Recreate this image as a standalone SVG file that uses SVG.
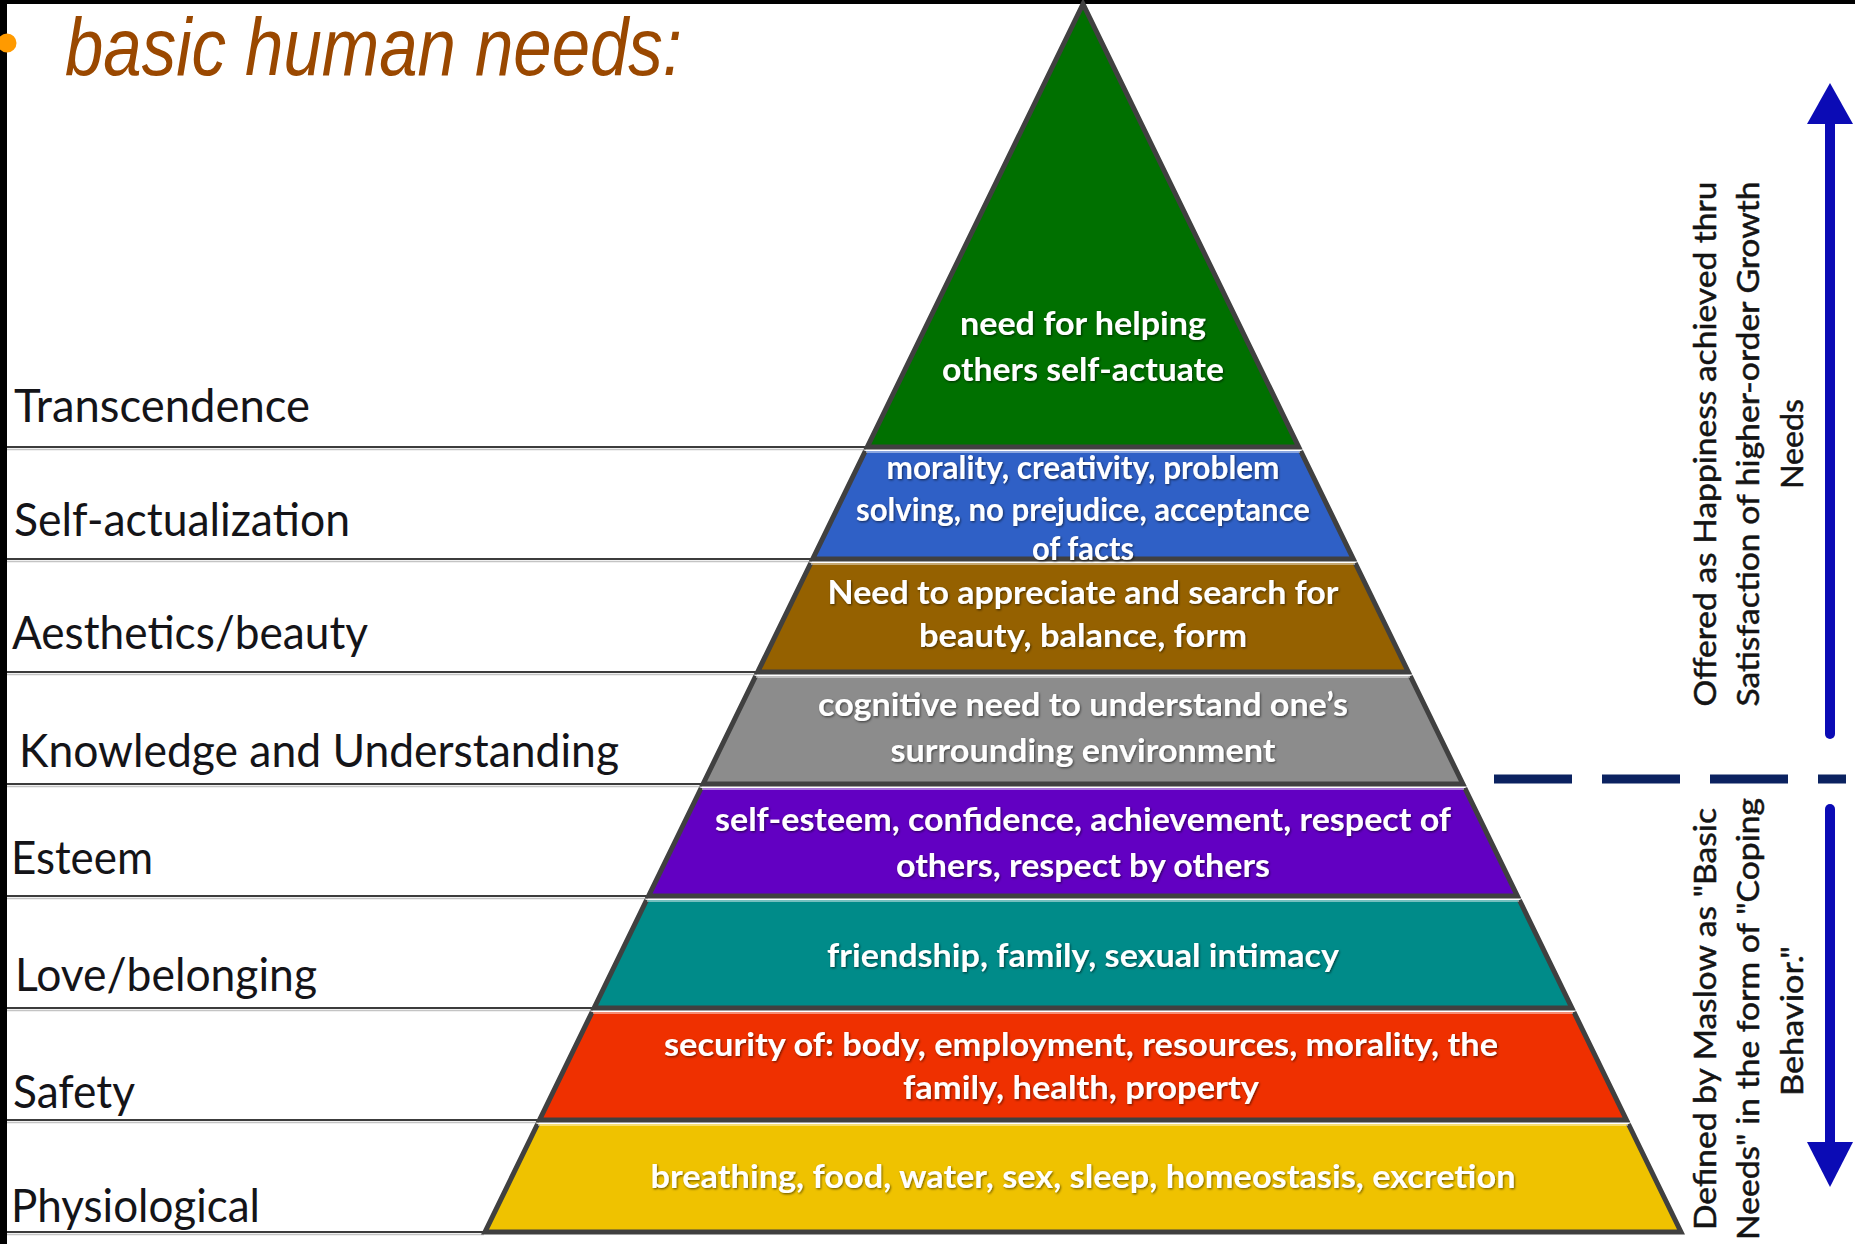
<svg xmlns="http://www.w3.org/2000/svg" width="1855" height="1244" viewBox="0 0 1855 1244">
<defs>
<style>
.lbl{font-family:Lato,"Open Sans","Liberation Sans",sans-serif;font-size:46px;fill:#141418}
.pt{font-family:Lato,"Open Sans","Liberation Sans",sans-serif;font-size:32px;font-weight:bold;fill:#ffffff;text-anchor:middle;filter:url(#sh)}
.side{font-family:Lato,"Open Sans","Liberation Sans",sans-serif;font-size:31px;fill:#141414;stroke:#141414;stroke-width:0.5;text-anchor:middle}
.edge{fill:none;stroke:#404040;stroke-width:5;stroke-linejoin:miter}
.hl{stroke:#ffffff;stroke-opacity:0.45;stroke-width:2}
.rule{stroke:#3c3c3c;stroke-width:2.2}
.rule2{stroke:#c4c4c4;stroke-width:1.5}
</style>
<filter id="sh" x="-5%" y="-30%" width="110%" height="160%">
<feDropShadow dx="1" dy="1.2" stdDeviation="0.9" flood-color="#000" flood-opacity="0.55"/>
</filter>
</defs>
<rect x="0" y="0" width="1855" height="1244" fill="#ffffff"/>
<rect x="0" y="0" width="1855" height="4" fill="#000"/>
<rect x="0" y="0" width="7" height="1244" fill="#000"/>
<circle id="bullet" cx="7" cy="43" r="9.5" fill="#ff9a00"/>
<text id="title" x="65" y="75" font-family="'Liberation Sans',Arial,sans-serif" font-style="italic" font-size="82" fill="#9a4800" textLength="617" lengthAdjust="spacingAndGlyphs">basic human needs:</text>

<g id="rules">
<line class="rule" x1="7" y1="447" x2="867" y2="447"/><line class="rule2" x1="7" y1="449.5" x2="866" y2="449.5"/>
<line class="rule" x1="7" y1="559" x2="813" y2="559"/><line class="rule2" x1="7" y1="561.5" x2="812" y2="561.5"/>
<line class="rule" x1="7" y1="672" x2="758" y2="672"/><line class="rule2" x1="7" y1="674.5" x2="757" y2="674.5"/>
<line class="rule" x1="7" y1="784" x2="703" y2="784"/><line class="rule2" x1="7" y1="786.5" x2="702" y2="786.5"/>
<line class="rule" x1="7" y1="896" x2="649" y2="896"/><line class="rule2" x1="7" y1="898.5" x2="648" y2="898.5"/>
<line class="rule" x1="7" y1="1008" x2="594" y2="1008"/><line class="rule2" x1="7" y1="1010.5" x2="593" y2="1010.5"/>
<line class="rule" x1="7" y1="1120" x2="540" y2="1120"/><line class="rule2" x1="7" y1="1122.5" x2="539" y2="1122.5"/>
<line class="rule" x1="7" y1="1232" x2="485" y2="1232"/><line class="rule2" x1="7" y1="1234.5" x2="484" y2="1234.5"/>
</g>

<g id="labels">
<text class="lbl" x="14" y="422" textLength="296" lengthAdjust="spacingAndGlyphs">Transcendence</text>
<text class="lbl" x="14" y="536" textLength="336" lengthAdjust="spacingAndGlyphs">Self-actualization</text>
<text class="lbl" x="12" y="649" textLength="356" lengthAdjust="spacingAndGlyphs">Aesthetics/beauty</text>
<text class="lbl" x="19" y="767" textLength="600" lengthAdjust="spacingAndGlyphs">Knowledge and Understanding</text>
<text class="lbl" x="11" y="874" textLength="142" lengthAdjust="spacingAndGlyphs">Esteem</text>
<text class="lbl" x="15" y="991" textLength="302" lengthAdjust="spacingAndGlyphs">Love/belonging</text>
<text class="lbl" x="13" y="1108" textLength="122" lengthAdjust="spacingAndGlyphs">Safety</text>
<text class="lbl" x="11" y="1222" textLength="249" lengthAdjust="spacingAndGlyphs">Physiological</text>
</g>

<g id="layer-transcendence">
<polygon points="1083,4 1298.7,447 867.3,447" fill="#007000"/>
<path class="edge" d="M1083,4 L867.3,447 L1298.7,447 Z"/>
<text class="pt" x="1083" y="335" textLength="246" lengthAdjust="spacingAndGlyphs">need for helping</text>
<text class="pt" x="1083" y="381" textLength="282" lengthAdjust="spacingAndGlyphs">others self-actuate</text>
</g>

<g id="layer-self-actualization">
<polygon points="865.3,451 1300.7,451 1353.3,559 812.7,559" fill="#2f60c6"/>
<path class="edge" d="M865.3,451 L812.7,559 L1353.3,559 L1300.7,451"/>
<line class="hl" x1="866" y1="452" x2="1300" y2="452"/>
<text class="pt" x="1083" y="479" textLength="393" lengthAdjust="spacingAndGlyphs">morality, creativity, problem</text>
<text class="pt" x="1083" y="521" textLength="454" lengthAdjust="spacingAndGlyphs">solving, no prejudice, acceptance</text>
<text class="pt" x="1083" y="560" textLength="102" lengthAdjust="spacingAndGlyphs">of facts</text>
</g>

<g id="layer-aesthetics">
<polygon points="810.8,563 1355.2,563 1408.3,672 757.7,672" fill="#956100"/>
<path class="edge" d="M810.8,563 L757.7,672 L1408.3,672 L1355.2,563"/>
<line class="hl" x1="811" y1="564" x2="1355" y2="564"/>
<text class="pt" x="1083" y="604" textLength="511" lengthAdjust="spacingAndGlyphs">Need to appreciate and search for</text>
<text class="pt" x="1083" y="647" textLength="328" lengthAdjust="spacingAndGlyphs">beauty, balance, form</text>
</g>

<g id="layer-knowledge">
<polygon points="755.7,676 1410.3,676 1462.9,784 703.1,784" fill="#8c8c8c"/>
<path class="edge" d="M755.7,676 L703.1,784 L1462.9,784 L1410.3,676"/>
<line class="hl" x1="756" y1="677" x2="1410" y2="677"/>
<text class="pt" x="1083" y="716" textLength="530" lengthAdjust="spacingAndGlyphs">cognitive need to understand one’s</text>
<text class="pt" x="1083" y="762" textLength="385" lengthAdjust="spacingAndGlyphs">surrounding environment</text>
</g>

<g id="layer-esteem">
<polygon points="701.2,788 1464.8,788 1517.4,896 648.6,896" fill="#6200c2"/>
<path class="edge" d="M701.2,788 L648.6,896 L1517.4,896 L1464.8,788"/>
<line class="hl" x1="702" y1="789" x2="1464" y2="789"/>
<text class="pt" x="1083" y="831" textLength="736" lengthAdjust="spacingAndGlyphs">self-esteem, confidence, achievement, respect of</text>
<text class="pt" x="1083" y="877" textLength="374" lengthAdjust="spacingAndGlyphs">others, respect by others</text>
</g>

<g id="layer-love">
<polygon points="646.6,900 1519.4,900 1571.9,1008 594.1,1008" fill="#008b89"/>
<path class="edge" d="M646.6,900 L594.1,1008 L1571.9,1008 L1519.4,900"/>
<line class="hl" x1="647" y1="901" x2="1519" y2="901"/>
<text class="pt" x="1083" y="967" textLength="512" lengthAdjust="spacingAndGlyphs">friendship, family, sexual intimacy</text>
</g>

<g id="layer-safety">
<polygon points="592.1,1012 1573.9,1012 1626.5,1120 539.5,1120" fill="#ef3000"/>
<path class="edge" d="M592.1,1012 L539.5,1120 L1626.5,1120 L1573.9,1012"/>
<line class="hl" x1="593" y1="1013" x2="1573" y2="1013"/>
<text class="pt" x="1081" y="1056" textLength="834" lengthAdjust="spacingAndGlyphs">security of: body, employment, resources, morality, the</text>
<text class="pt" x="1081" y="1099" textLength="356" lengthAdjust="spacingAndGlyphs">family, health, property</text>
</g>

<g id="layer-physiological">
<polygon points="537.6,1124 1628.4,1124 1681,1232 485,1232" fill="#efc200"/>
<path class="edge" d="M537.6,1124 L485,1232 L1681,1232 L1628.4,1124"/>
<line class="hl" x1="538" y1="1125" x2="1628" y2="1125"/>
<text class="pt" x="1083" y="1188" textLength="865" lengthAdjust="spacingAndGlyphs">breathing, food, water, sex, sleep, homeostasis, excretion</text>
</g>

<g id="connectors">
<line x1="1494" y1="779" x2="1846" y2="779" stroke="#0b2260" stroke-width="9" stroke-dasharray="78 30"/>
<g id="arrow-up" fill="#0b0bb5">
<line x1="1830" y1="120" x2="1830" y2="734" stroke="#0b0bb5" stroke-width="10" stroke-linecap="round"/>
<polygon points="1830,83 1853,124 1807,124"/>
</g>
<g id="arrow-down" fill="#0b0bb5">
<line x1="1830" y1="809" x2="1830" y2="1146" stroke="#0b0bb5" stroke-width="10" stroke-linecap="round"/>
<polygon points="1807,1142 1853,1142 1830,1187"/>
</g>
</g>

<g id="note-growth">
<text class="side" transform="translate(1716,444) rotate(-90)" textLength="525" lengthAdjust="spacingAndGlyphs">Offered as Happiness achieved thru</text>
<text class="side" transform="translate(1759,444) rotate(-90)" textLength="525" lengthAdjust="spacingAndGlyphs">Satisfaction of higher-order Growth</text>
<text class="side" transform="translate(1803,444) rotate(-90)" textLength="90" lengthAdjust="spacingAndGlyphs">Needs</text>
</g>

<g id="note-basic">
<text class="side" transform="translate(1716,1019) rotate(-90)" textLength="422" lengthAdjust="spacingAndGlyphs">Defined by Maslow as "Basic</text>
<text class="side" transform="translate(1759,1019) rotate(-90)" textLength="442" lengthAdjust="spacingAndGlyphs">Needs" in the form of "Coping</text>
<text class="side" transform="translate(1803,1021) rotate(-90)" textLength="150" lengthAdjust="spacingAndGlyphs">Behavior."</text>
</g>
</svg>
